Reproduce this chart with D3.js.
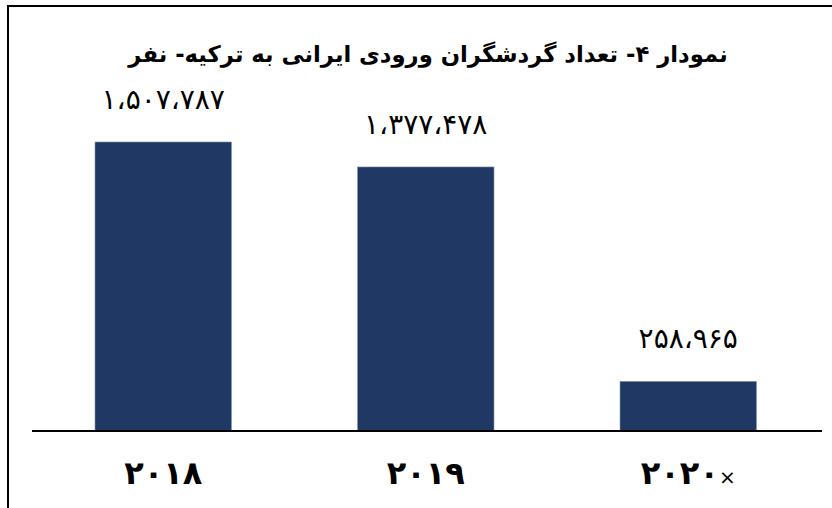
<!DOCTYPE html>
<html>
<head>
<meta charset="utf-8">
<script src="https://cdn.jsdelivr.net/npm/d3@7"></script>
<style>
  html, body { margin: 0; padding: 0; background: #ffffff; }
  svg { display: block; }
</style>
</head>
<body>
<script>
const title = "نمودار ۴- تعداد گردشگران ورودی ایرانی به ترکیه- نفر";
const categories = ["۲۰۱۸", "۲۰۱۹", "۲۰۲۰"];
const categoryMarks = ["", "", "×"];
const values = [1507787, 1377478, 258965];

const W = 832, H = 508;
const faDigits = "۰۱۲۳۴۵۶۷۸۹";
function toFa(n) {
  return d3.format(",")(n).replace(/,/g, "،").replace(/[0-9]/g, d => faDigits[+d]);
}

const svg = d3.select("body").append("svg").attr("width", W).attr("height", H);
svg.append("rect").attr("width", W).attr("height", H).attr("fill", "#fff");

// frame (top and left edges)
svg.append("line").attr("x1", 7).attr("x2", W).attr("y1", 6).attr("y2", 6)
  .attr("stroke", "#000").attr("stroke-width", 2);
svg.append("line").attr("x1", 8).attr("x2", 8).attr("y1", 5).attr("y2", H)
  .attr("stroke", "#000").attr("stroke-width", 2);

const x = d3.scaleBand().domain(categories).range([32, 819.5])
  .paddingInner(0.48).paddingOuter(0.24);
const y = d3.scaleLinear().domain([0, 1600000]).range([431, 124.3]);

svg.append("text")
  .attr("x", 428).attr("y", 62)
  .attr("text-anchor", "middle")
  .attr("direction", "rtl")
  .style("font-family", "'DejaVu Sans', sans-serif")
  .style("font-weight", "bold")
  .style("font-size", "22.7px")
  .text(title);

svg.selectAll("rect.bar").data(values).join("rect")
  .attr("class", "bar")
  .attr("x", (d, i) => x(categories[i]))
  .attr("width", x.bandwidth())
  .attr("y", d => y(d))
  .attr("height", d => y(0) - y(d))
  .attr("fill", "#203864")
  .attr("stroke", "#8797b2")
  .attr("stroke-width", 0.6);

svg.selectAll("text.val").data(values).join("text")
  .attr("class", "val")
  .attr("x", (d, i) => x(categories[i]) + x.bandwidth() / 2)
  .attr("y", d => y(d) - 33)
  .attr("text-anchor", "middle")
  .style("font-family", "'DejaVu Sans', sans-serif")
  .style("font-size", "28px")
  .attr("fill", "#000")
  .text(d => toFa(d));

// x axis line
svg.append("line").attr("x1", 32).attr("x2", 822).attr("y1", 431).attr("y2", 431)
  .attr("stroke", "#000").attr("stroke-width", 2.2);

const xl = svg.selectAll("text.cat").data(categories).join("text")
  .attr("class", "cat")
  .attr("x", d => x(d) + x.bandwidth() / 2)
  .attr("y", 484)
  .attr("text-anchor", "middle")
  .style("font-family", "'DejaVu Sans', sans-serif")
  .style("font-size", "32px")
  .style("font-weight", "bold");
xl.append("tspan").text(d => d);
xl.append("tspan").style("font-weight", "normal").style("font-size", "20px")
  .text((d, i) => categoryMarks[i]);
</script>
</body>
</html>
